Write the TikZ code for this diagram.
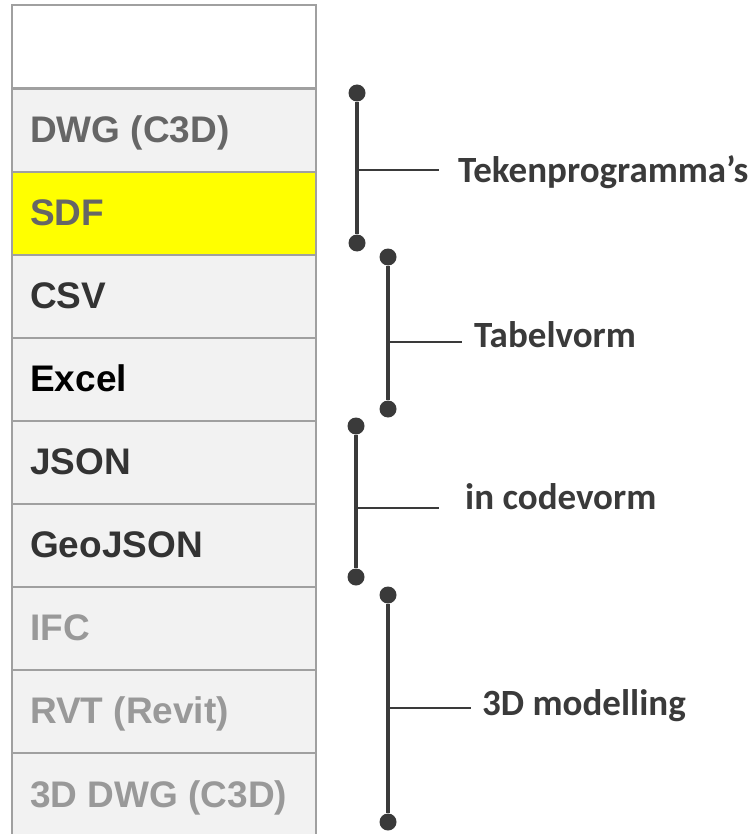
\documentclass[tikz,border=0pt]{standalone}
\usepackage{fontspec}
\setmainfont{Liberation Sans}
\newfontfamily\labelfont{Carlito}
\definecolor{cellfill}{HTML}{F2F2F2}
\definecolor{cellrule}{HTML}{A0A0A0}
\definecolor{hilite}{HTML}{FFFF00}
\definecolor{inkdark}{HTML}{3A3A3A}
\definecolor{txtmid}{HTML}{666666}
\definecolor{txtdark}{HTML}{333333}
\definecolor{txtlight}{HTML}{999999}
\begin{document}
\begin{tikzpicture}[x=1pt,y=-1pt,
  cell/.style={draw=cellrule,line width=1.8pt,fill=cellfill,rectangle,
    minimum width=304pt,minimum height=83pt,inner sep=0pt,anchor=north west},
  celltext/.style={anchor=base west,inner sep=0pt,
    font=\fontsize{37}{40}\selectfont\bfseries},
  dot/.style={circle,fill=inkdark,inner sep=0pt,minimum size=17pt},
  bar/.style={draw=inkdark,line width=4pt},
  tick/.style={draw=inkdark,line width=1.8pt},
  grouplabel/.style={anchor=base west,inner sep=0pt,text=inkdark,
    font=\labelfont\fontsize{37}{40}\selectfont\bfseries}]
\useasboundingbox (0,0) rectangle (754,834);

% table of file formats
\node[cell,fill=white] (r0) at (11,4) {};
\node[cell] (r1) at (11,88) {};
\node[cell,fill=hilite] (r2) at (11,171) {};
\node[cell] (r3) at (11,254) {};
\node[cell] (r4) at (11,337) {};
\node[cell] (r5) at (11,420) {};
\node[cell] (r6) at (11,503) {};
\node[cell] (r7) at (11,586) {};
\node[cell] (r8) at (11,669) {};
\node[cell,minimum height=90pt] (r9) at (11,752) {};

\node[celltext,text=txtmid] (t1) at ([xshift=19pt,yshift=-12.5pt]r1.west) {DWG (C3D)};
\node[celltext,text=txtmid] (t2) at ([xshift=19pt,yshift=-12.5pt]r2.west) {SDF};
\node[celltext,text=txtdark] (t3) at ([xshift=19pt,yshift=-12.5pt]r3.west) {CSV};
\node[celltext,text=black] (t4) at ([xshift=19pt,yshift=-12.5pt]r4.west) {Excel};
\node[celltext,text=txtdark] (t5) at ([xshift=19pt,yshift=-12.5pt]r5.west) {JSON};
\node[celltext,text=txtdark] (t6) at ([xshift=19pt,yshift=-12.5pt]r6.west) {GeoJSON};
\node[celltext,text=txtlight] (t7) at ([xshift=19pt,yshift=-12.5pt]r7.west) {IFC};
\node[celltext,text=txtlight] (t8) at ([xshift=19pt,yshift=-12.5pt]r8.west) {RVT (Revit)};
\node[celltext,text=txtlight] (t9) at (30,807) {3D DWG (C3D)};

% group brackets
\node[dot] (a1) at (357,93) {};
\node[dot] (a2) at (357,243) {};
\coordinate (a3) at (357,170);
\coordinate (a4) at (439,170);
\draw[bar] (a1) -- (a2);
\draw[tick] (a3) -- (a4);
\node[grouplabel] (la) at (458,183) {Tekenprogramma’s};

\node[dot] (b1) at (388,257) {};
\node[dot] (b2) at (388,409) {};
\coordinate (b3) at (388,342);
\coordinate (b4) at (462,342);
\draw[bar] (b1) -- (b2);
\draw[tick] (b3) -- (b4);
\node[grouplabel] (lb) at (474,347) {Tabelvorm};

\node[dot] (c1) at (356,426) {};
\node[dot] (c2) at (356,577) {};
\coordinate (c3) at (356,508);
\coordinate (c4) at (439,508);
\draw[bar] (c1) -- (c2);
\draw[tick] (c3) -- (c4);
\node[grouplabel] (lc) at (465,509) {in codevorm};

\node[dot] (d1) at (388,595) {};
\node[dot] (d2) at (388,822) {};
\coordinate (d3) at (388,708);
\coordinate (d4) at (471,708);
\draw[bar] (d1) -- (d2);
\draw[tick] (d3) -- (d4);
\node[grouplabel] (ld) at (482,715) {3D modelling};
\end{tikzpicture}
\end{document}
